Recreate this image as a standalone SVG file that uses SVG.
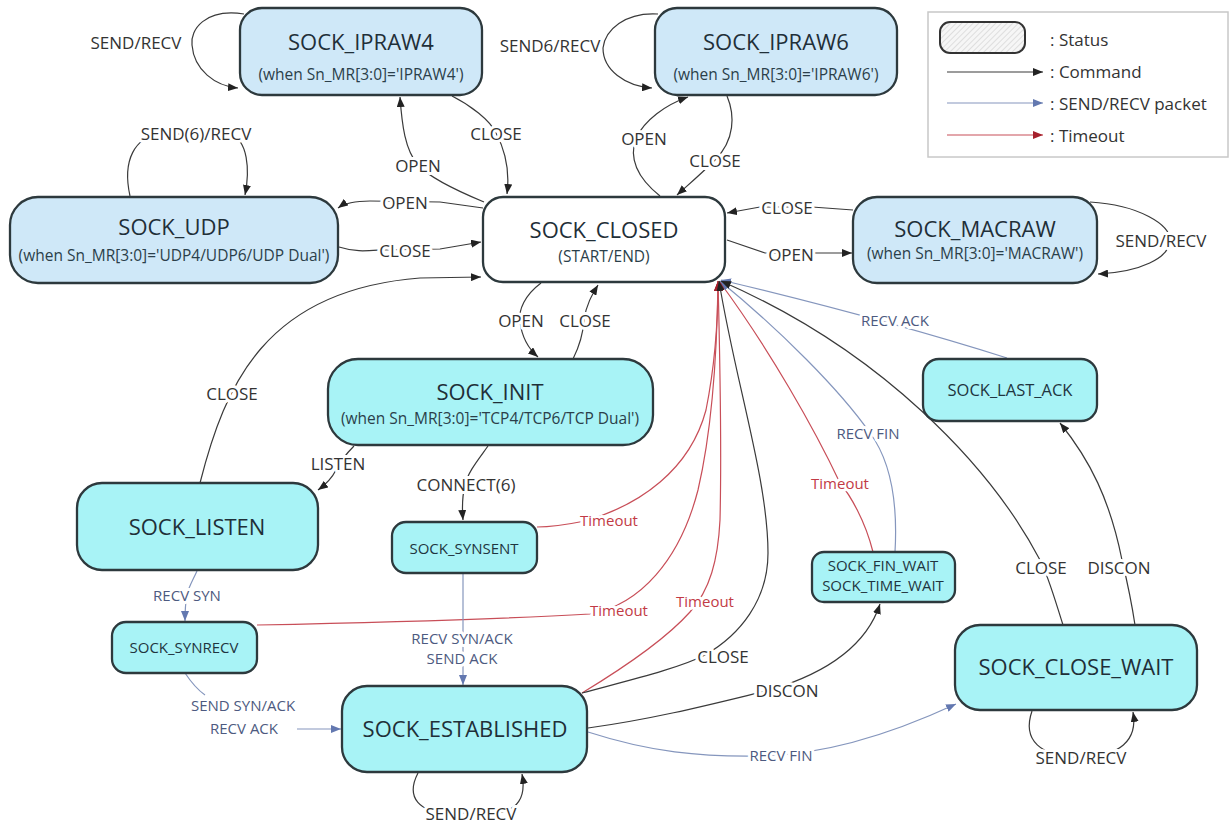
<svg xmlns="http://www.w3.org/2000/svg" width="1230" height="827" viewBox="0 0 1230 827">
<style>
.n{stroke:#2d393d;stroke-width:2.3}
.raw{fill:#cfe8f8}
.tcp{fill:#a8f3f6}
.cls{fill:#ffffff}
.t{font-family:'Open Sans','DejaVu Sans',sans-serif;font-size:22px;fill:#1f2f38;text-anchor:middle}
.s{font-family:'Open Sans','DejaVu Sans',sans-serif;font-size:15.5px;fill:#2b3f4a;text-anchor:middle}
.sm{font-family:'Open Sans','DejaVu Sans',sans-serif;font-size:15px;fill:#1f3540;text-anchor:middle}
.c{fill:none;stroke:#3a3a3a;stroke-width:1.2}
.p{fill:none;stroke:#8596bd;stroke-width:1.2}
.o{fill:none;stroke:#c84e58;stroke-width:1.2}
.l,.lp,.lo{font-family:'Open Sans','DejaVu Sans',sans-serif;text-anchor:middle;dominant-baseline:central;stroke:#fff;stroke-width:6;stroke-linejoin:round;paint-order:stroke}
.l{font-size:17px;fill:#333}
.lp{font-size:15px;fill:#4d5a80}
.lo{font-size:15px;fill:#c23b45}
.lg{font-family:'Open Sans','DejaVu Sans',sans-serif;font-size:17px;fill:#333;dominant-baseline:central}
</style>
<defs>
<marker id="ab" viewBox="0 0 10 8" refX="10" refY="4" markerWidth="10" markerHeight="8" markerUnits="userSpaceOnUse" orient="auto"><path d="M0,0 L10,4 L0,8 z" fill="#222"/></marker>
<marker id="au" viewBox="0 0 10 8" refX="10" refY="4" markerWidth="10" markerHeight="8" markerUnits="userSpaceOnUse" orient="auto"><path d="M0,0 L10,4 L0,8 z" fill="#6378b0"/></marker>
<marker id="ar" viewBox="0 0 10 8" refX="10" refY="4" markerWidth="10" markerHeight="8" markerUnits="userSpaceOnUse" orient="auto"><path d="M0,0 L10,4 L0,8 z" fill="#a5202c"/></marker>
<pattern id="hatch" width="4" height="4" patternUnits="userSpaceOnUse" patternTransform="rotate(45)"><rect width="4" height="4" fill="#f6f6f6"/><line x1="0" y1="0" x2="0" y2="4" stroke="#d4d4d4" stroke-width="1.4"/></pattern>
</defs>
<rect width="1230" height="827" fill="#ffffff"/>

<g id="connectors">
<path class="c" d="M244,14 C205,8 190,30 192,45 C194,70 215,86 238,88" marker-end="url(#ab)"/>
<text class="l" x="136" y="42">SEND/RECV</text>
<path class="c" d="M658,14 C625,12 605,30 603,48 C603,70 625,86 652,88" marker-end="url(#ab)"/>
<text class="l" x="550" y="45">SEND6/RECV</text>
<path class="c" d="M130,196 C122,160 135,137 160,134 L230,134 C248,140 250,170 245,195" marker-end="url(#ab)"/>
<text class="l" x="196" y="133">SEND(6)/RECV</text>
<path class="c" d="M1090,202 C1140,205 1170,225 1170,240 C1170,258 1140,272 1098,274" marker-end="url(#ab)"/>
<text class="l" x="1161" y="240">SEND/RECV</text>
<path class="c" d="M418,773 C405,798 420,813 450,813 L490,813 C520,813 526,795 522,774" marker-end="url(#ab)"/>
<text class="l" x="471" y="813">SEND/RECV</text>
<path class="c" d="M1032,711 C1022,740 1040,757 1080,757 C1120,757 1138,740 1133,712" marker-end="url(#ab)"/>
<text class="l" x="1081" y="757">SEND/RECV</text>

<path class="c" d="M484,202 C455,190 430,178 418,165 C405,150 402,125 400,97" marker-end="url(#ab)"/>
<text class="l" x="418" y="165">OPEN</text>
<path class="c" d="M452,96 C470,105 490,120 496,133 C505,150 510,170 507,194" marker-end="url(#ab)"/>
<text class="l" x="496" y="133">CLOSE</text>
<path class="c" d="M660,196 C640,180 628,160 636,138 C645,120 665,105 688,97" marker-end="url(#ab)"/>
<text class="l" x="644" y="138">OPEN</text>
<path class="c" d="M727,96 C735,115 735,140 715,160 C700,175 688,185 677,195" marker-end="url(#ab)"/>
<text class="l" x="715" y="160">CLOSE</text>
<path class="c" d="M483,208 L440,202 L370,201 C355,201 345,203 338,208" marker-end="url(#ab)"/>
<text class="l" x="405" y="202">OPEN</text>
<path class="c" d="M339,247 C355,252 365,251 380,250 L440,249 L481,242" marker-end="url(#ab)"/>
<text class="l" x="405" y="250">CLOSE</text>
<path class="c" d="M853,210 L812,207 L760,207 L727,213" marker-end="url(#ab)"/>
<text class="l" x="787" y="207">CLOSE</text>
<path class="c" d="M727,240 L765,253 L852,253" marker-end="url(#ab)"/>
<text class="l" x="791" y="254">OPEN</text>
<path class="c" d="M541,283 C525,295 518,310 520,322 C522,338 530,350 538,357" marker-end="url(#ab)"/>
<text class="l" x="521" y="320">OPEN</text>
<path class="c" d="M573,359 C580,345 583,335 584,320 C586,305 592,295 598,285" marker-end="url(#ab)"/>
<text class="l" x="585" y="320">CLOSE</text>
<path class="c" d="M200,483 C225,385 265,290 420,278 L481,277" marker-end="url(#ab)"/>
<text class="l" x="232" y="393">CLOSE</text>
<path class="c" d="M354,446 C345,455 340,462 336,470 C332,478 325,485 318,490" marker-end="url(#ab)"/>
<text class="l" x="338" y="463">LISTEN</text>
<path class="c" d="M488,446 C478,460 468,472 465,485 C462,497 462,508 463,520" marker-end="url(#ab)"/>
<text class="l" x="466" y="484">CONNECT(6)</text>

<path class="o" d="M537,527 C555,527 570,524 585,521 C640,505 690,470 706,410 C716,360 718,320 718,281" marker-end="url(#ar)"/>
<text class="lo" x="609" y="520">Timeout</text>
<path class="o" d="M257,625 C400,622 520,618 590,614 C640,605 680,560 698,490 C712,430 717,360 718,281" marker-end="url(#ar)"/>
<text class="lo" x="619" y="610">Timeout</text>
<path class="o" d="M582,693 C620,670 665,640 690,612 C710,590 718,560 720,520 C722,440 720,360 718,281" marker-end="url(#ar)"/>
<text class="lo" x="705" y="601">Timeout</text>
<path class="o" d="M873,552 C865,520 850,495 840,483 C815,430 770,350 719,281" marker-end="url(#ar)"/>
<text class="lo" x="840" y="483">Timeout</text>
<path class="p" d="M895,552 C898,500 890,460 870,433 C840,390 780,330 720,281" marker-end="url(#au)"/>
<text class="lp" x="868" y="433">RECV FIN</text>
<path class="p" d="M1007,358 Q880,318 721,280" marker-end="url(#au)"/>
<text class="lp" x="895" y="320">RECV ACK</text>
<path class="c" d="M582,693 C630,680 680,668 705,655 C740,635 768,600 768,553 C768,480 735,380 719,281" marker-end="url(#ab)"/>
<text class="l" x="723" y="656">CLOSE</text>
<path class="c" d="M1063,625 C1055,600 1048,575 1040,560 C990,465 880,350 721,281" marker-end="url(#ab)"/>
<text class="l" x="1041" y="567">CLOSE</text>

<path class="p" d="M197,571 C193,580 188,588 187,595 C185,605 185,612 185,621" marker-end="url(#au)"/>
<text class="lp" x="187" y="595">RECV SYN</text>
<path class="p" d="M185,673 Q195,688 205,695 M297,729 L341,729" marker-end="url(#au)"/>
<text class="lp" x="243" y="705">SEND SYN/ACK</text>
<text class="lp" x="244" y="728">RECV ACK</text>
<path class="p" d="M463,573 L463,685" marker-end="url(#au)"/>
<text class="lp" x="462" y="638">RECV SYN/ACK</text>
<text class="lp" x="462" y="658">SEND ACK</text>
<path class="c" d="M588,728 C660,718 720,702 770,690 C820,675 865,650 880,604" marker-end="url(#ab)"/>
<text class="l" x="787" y="690">DISCON</text>
<path class="p" d="M588,732 C650,752 700,757 760,756 C830,755 900,730 956,704" marker-end="url(#au)"/>
<text class="lp" x="781" y="755">RECV FIN</text>
<path class="c" d="M1135,625 C1132,605 1128,585 1122,560 C1110,500 1090,460 1060,423" marker-end="url(#ab)"/>
<text class="l" x="1119" y="567">DISCON</text>
</g>

<g id="node-ipraw4"><rect class="n raw" x="240" y="8" width="242" height="87" rx="22"/><text class="t" x="361" y="50">SOCK_IPRAW4</text><text class="s" x="361" y="80">(when Sn_MR[3:0]='IPRAW4')</text></g>
<g id="node-ipraw6"><rect class="n raw" x="655" y="8" width="242" height="87" rx="22"/><text class="t" x="776" y="50">SOCK_IPRAW6</text><text class="s" x="776" y="80">(when Sn_MR[3:0]='IPRAW6')</text></g>
<g id="node-udp"><rect class="n raw" x="10" y="197" width="328" height="86" rx="28"/><text class="t" x="174" y="235">SOCK_UDP</text><text class="s" x="174" y="261">(when Sn_MR[3:0]='UDP4/UDP6/UDP Dual')</text></g>
<g id="node-closed"><rect class="n cls" x="483" y="197" width="242" height="85" rx="20"/><text class="t" x="604" y="238">SOCK_CLOSED</text><text class="s" x="604" y="262">(START/END)</text></g>
<g id="node-macraw"><rect class="n raw" x="853" y="197" width="244" height="86" rx="24"/><text class="t" x="975" y="237">SOCK_MACRAW</text><text class="s" x="975" y="259">(when Sn_MR[3:0]='MACRAW')</text></g>
<g id="node-init"><rect class="n tcp" x="328" y="359" width="325" height="86" rx="30"/><text class="t" x="490" y="400">SOCK_INIT</text><text class="s" x="490" y="424">(when Sn_MR[3:0]='TCP4/TCP6/TCP Dual')</text></g>
<g id="node-listen"><rect class="n tcp" x="77" y="483" width="241" height="87" rx="25"/><text class="t" x="197" y="535">SOCK_LISTEN</text></g>
<g id="node-synrecv"><rect class="n tcp" x="112" y="622" width="145" height="51" rx="14"/><text class="sm" x="184" y="653">SOCK_SYNRECV</text></g>
<g id="node-synsent"><rect class="n tcp" x="392" y="522" width="145" height="51" rx="14"/><text class="sm" x="464" y="554">SOCK_SYNSENT</text></g>
<g id="node-established"><rect class="n tcp" x="342" y="686" width="245" height="86" rx="25"/><text class="t" x="465" y="737">SOCK_ESTABLISHED</text></g>
<g id="node-finwait"><rect class="n tcp" x="812" y="552" width="143" height="50" rx="12"/><text class="sm" x="883" y="571">SOCK_FIN_WAIT</text><text class="sm" x="883" y="591">SOCK_TIME_WAIT</text></g>
<g id="node-lastack"><rect class="n tcp" x="923" y="359" width="174" height="62" rx="16"/><text class="sm" x="1010" y="396" style="font-size:16.5px">SOCK_LAST_ACK</text></g>
<g id="node-closewait"><rect class="n tcp" x="955" y="625" width="242" height="85" rx="25"/><text class="t" x="1076" y="675">SOCK_CLOSE_WAIT</text></g>

<g id="legend">
<rect x="928" y="12" width="300" height="145" fill="#fff" stroke="#c8c8c8" stroke-width="1.5"/>
<rect x="940" y="22" width="85" height="31" rx="10" fill="url(#hatch)" stroke="#333" stroke-width="2"/>
<text class="lg" x="1050" y="39">: Status</text>
<path class="c" d="M947,72 L1043,72" marker-end="url(#ab)"/>
<text class="lg" x="1050" y="71">: Command</text>
<path class="p" d="M947,103 L1043,103" marker-end="url(#au)"/>
<text class="lg" x="1050" y="103">: SEND/RECV packet</text>
<path class="o" d="M947,135 L1043,135" marker-end="url(#ar)"/>
<text class="lg" x="1050" y="135">: Timeout</text>
</g>
</svg>
